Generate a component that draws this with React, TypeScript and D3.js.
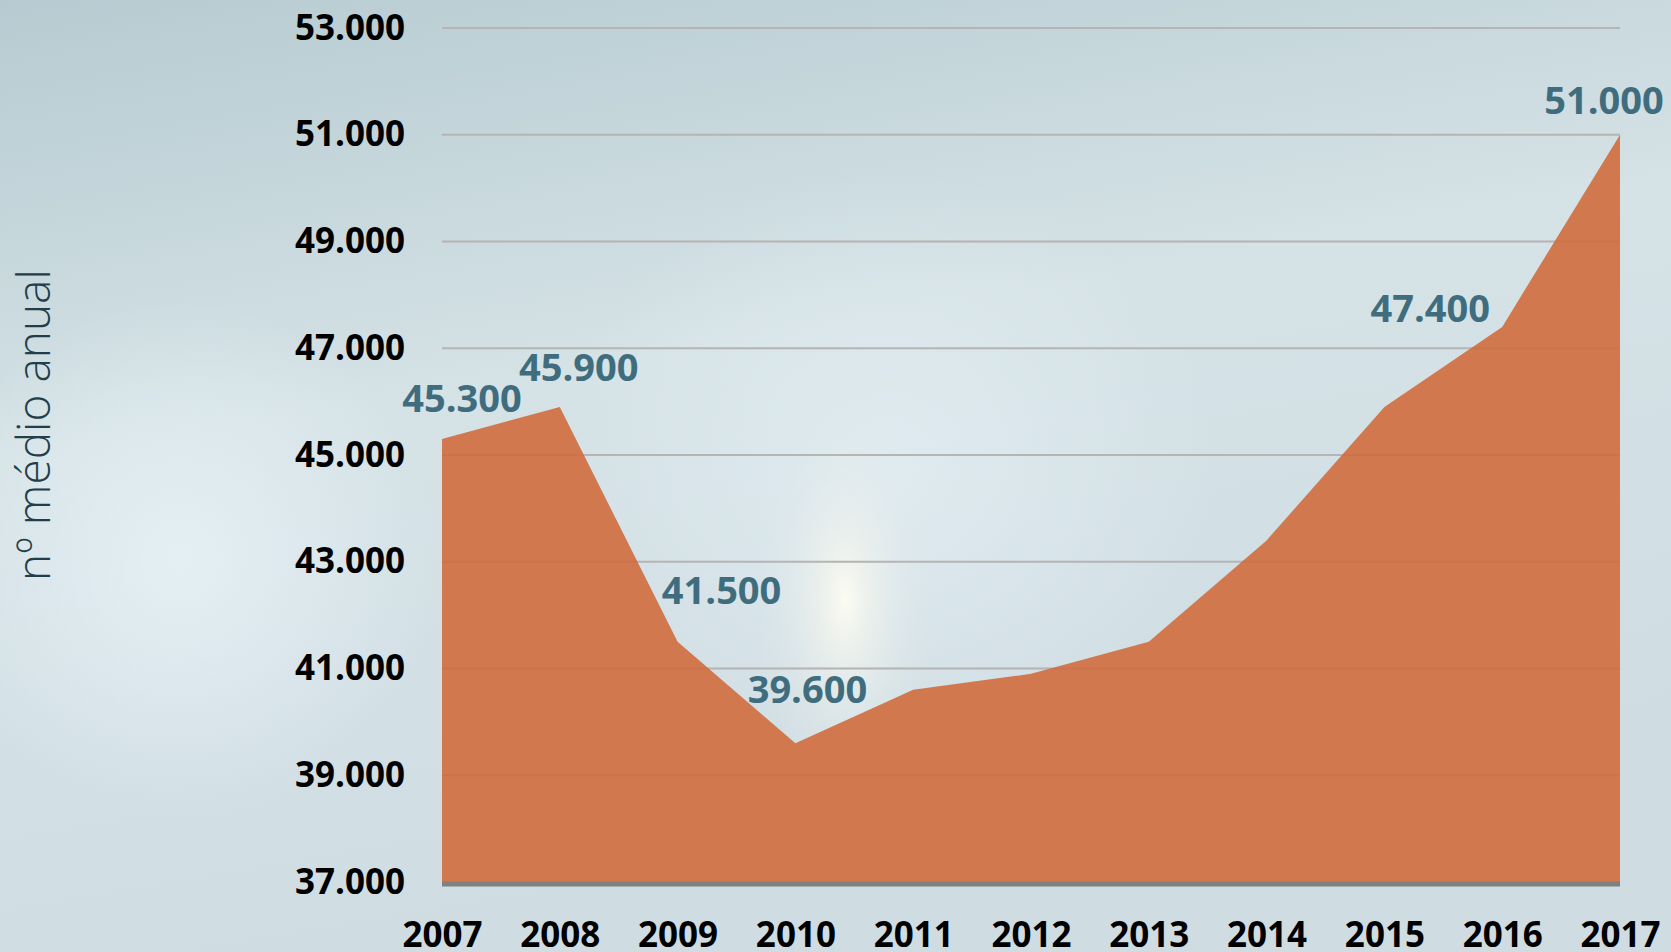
import * as d3 from 'd3';
import { useEffect, useRef } from 'react';

const years = ['2007', '2008', '2009', '2010', '2011', '2012', '2013', '2014', '2015', '2016', '2017'];
const values = [45300, 45900, 41500, 39600, 40600, 40900, 41500, 43400, 45900, 47400, 51000];
const yTicks = [37000, 39000, 41000, 43000, 45000, 47000, 49000, 51000, 53000];
const labelYears = ['2007', '2008', '2009', '2010', '2016', '2017'];
// deslocamento dos rótulos (px)
const labelOffsets = [
    [20, -27],
    [19, -26],
    [44, -38],
    [12, -40],
    [-72, -5],
    [-16, -21],
];
const yTitle = 'nº médio anual';

export default function App() {
    const ref = useRef<SVGSVGElement | null>(null);

    useEffect(() => {
        if (!ref.current) return;
        const svg = d3.select(ref.current);
        svg.selectAll('*').remove();

        const width = 1671;
        const height = 952;
        const font = "'Open Sans', 'DejaVu Sans', sans-serif";

        const ptBR = d3.formatLocale({ decimal: ',', thousands: '.', grouping: [3], currency: ['', ''] });
        const fmt = ptBR.format(',.0f');

        const x = d3.scalePoint<string>().domain(years).range([442, 1620]);
        const y = d3.scaleLinear().domain([37000, 53000]).range([882, 28]);

        // fundo
        const defs = svg.append('defs');
        const lg = defs
            .append('linearGradient')
            .attr('id', 'bg')
            .attr('x1', 0)
            .attr('y1', 0)
            .attr('x2', 0.3)
            .attr('y2', 1);
        lg.append('stop').attr('offset', '0%').attr('stop-color', '#b6cbd1');
        lg.append('stop').attr('offset', '45%').attr('stop-color', '#d5e2e6');
        lg.append('stop').attr('offset', '100%').attr('stop-color', '#cfdce2');

        const rg = defs.append('radialGradient').attr('id', 'glow').attr('cx', 0.5).attr('cy', 0.5).attr('r', 0.5);
        rg.append('stop').attr('offset', '0%').attr('stop-color', '#fdfcf2').attr('stop-opacity', 0.95);
        rg.append('stop').attr('offset', '40%').attr('stop-color', '#eef1ec').attr('stop-opacity', 0.6);
        rg.append('stop').attr('offset', '100%').attr('stop-color', '#dfe8ec').attr('stop-opacity', 0);

        const rg2 = defs.append('radialGradient').attr('id', 'glowL').attr('cx', 0.5).attr('cy', 0.5).attr('r', 0.5);
        rg2.append('stop').attr('offset', '0%').attr('stop-color', '#e6f1f6').attr('stop-opacity', 0.9);
        rg2.append('stop').attr('offset', '100%').attr('stop-color', '#e6f1f6').attr('stop-opacity', 0);

        svg.append('rect').attr('width', width).attr('height', height).attr('fill', 'url(#bg)');
        svg.append('ellipse')
            .attr('cx', 180)
            .attr('cy', 560)
            .attr('rx', 260)
            .attr('ry', 260)
            .attr('fill', 'url(#glowL)');
        svg.append('ellipse')
            .attr('cx', 890)
            .attr('cy', 470)
            .attr('rx', 330)
            .attr('ry', 300)
            .attr('fill', 'url(#glowL)')
            .attr('opacity', 0.7);
        svg.append('ellipse')
            .attr('cx', 845)
            .attr('cy', 600)
            .attr('rx', 90)
            .attr('ry', 200)
            .attr('fill', 'url(#glow)');

        // linhas de grade
        svg.append('g')
            .selectAll('line')
            .data(yTicks)
            .join('line')
            .attr('x1', x(years[0])!)
            .attr('x2', x(years[years.length - 1])!)
            .attr('y1', (d) => y(d))
            .attr('y2', (d) => y(d))
            .attr('stroke', '#b9c8ce')
            .attr('stroke-width', 2);

        // área
        const area = d3
            .area<number>()
            .x((_, i) => x(years[i])!)
            .y0(y(37000))
            .y1((d) => y(d));

        svg.append('path').datum(values).attr('d', area).attr('fill', '#d1784f');

        // grade por cima da área (leve)
        svg.append('g')
            .selectAll('line')
            .data(yTicks.slice(1))
            .join('line')
            .attr('x1', x(years[0])!)
            .attr('x2', x(years[years.length - 1])!)
            .attr('y1', (d) => y(d))
            .attr('y2', (d) => y(d))
            .attr('stroke', '#b0603c')
            .attr('stroke-opacity', 0.18)
            .attr('stroke-width', 2);

        // linha base
        svg.append('line')
            .attr('x1', x(years[0])!)
            .attr('x2', x(years[years.length - 1])!)
            .attr('y1', y(37000) + 2)
            .attr('y2', y(37000) + 2)
            .attr('stroke', '#808080')
            .attr('stroke-width', 5);

        // eixo Y
        svg.append('g')
            .attr('transform', 'translate(405,0)')
            .call(d3.axisLeft(y).tickValues(yTicks).tickFormat((d) => fmt(+d)).tickSize(0).tickPadding(0))
            .call((g) => g.select('.domain').remove())
            .selectAll('text')
            .attr('fill', '#000')
            .style('font-family', font)
            .style('font-weight', 700)
            .style('font-size', '35px');

        // eixo X
        svg.append('g')
            .attr('transform', `translate(0,${y(37000)})`)
            .call(d3.axisBottom(x).tickSize(0).tickPadding(0))
            .call((g) => g.select('.domain').remove())
            .selectAll('text')
            .attr('y', 65)
            .attr('dy', 0)
            .attr('fill', '#000')
            .style('font-family', font)
            .style('font-weight', 700)
            .style('font-size', '35px');

        // rótulos de valor
        svg.append('g')
            .selectAll('text')
            .data(labelYears)
            .join('text')
            .attr('x', (d, i) => x(d)! + labelOffsets[i][0])
            .attr('y', (d, i) => y(values[years.indexOf(d)]) + labelOffsets[i][1])
            .attr('text-anchor', 'middle')
            .attr('fill', '#3f6d7e')
            .style('font-family', font)
            .style('font-weight', 700)
            .style('font-size', '38px')
            .text((d) => fmt(values[years.indexOf(d)]));

        // título do eixo Y
        svg.append('text')
            .attr('transform', 'translate(50,425) rotate(-90)')
            .attr('text-anchor', 'middle')
            .attr('fill', '#223e49')
            .style('font-family', font)
            .style('font-weight', 300)
            .style('font-size', '46px')
            .text(yTitle);
    }, []);

    return (
        <svg
            ref={ref}
            width={1671}
            height={952}
            style={{ position: 'absolute', left: 0, top: 0, display: 'block' }}
        />
    );
}
